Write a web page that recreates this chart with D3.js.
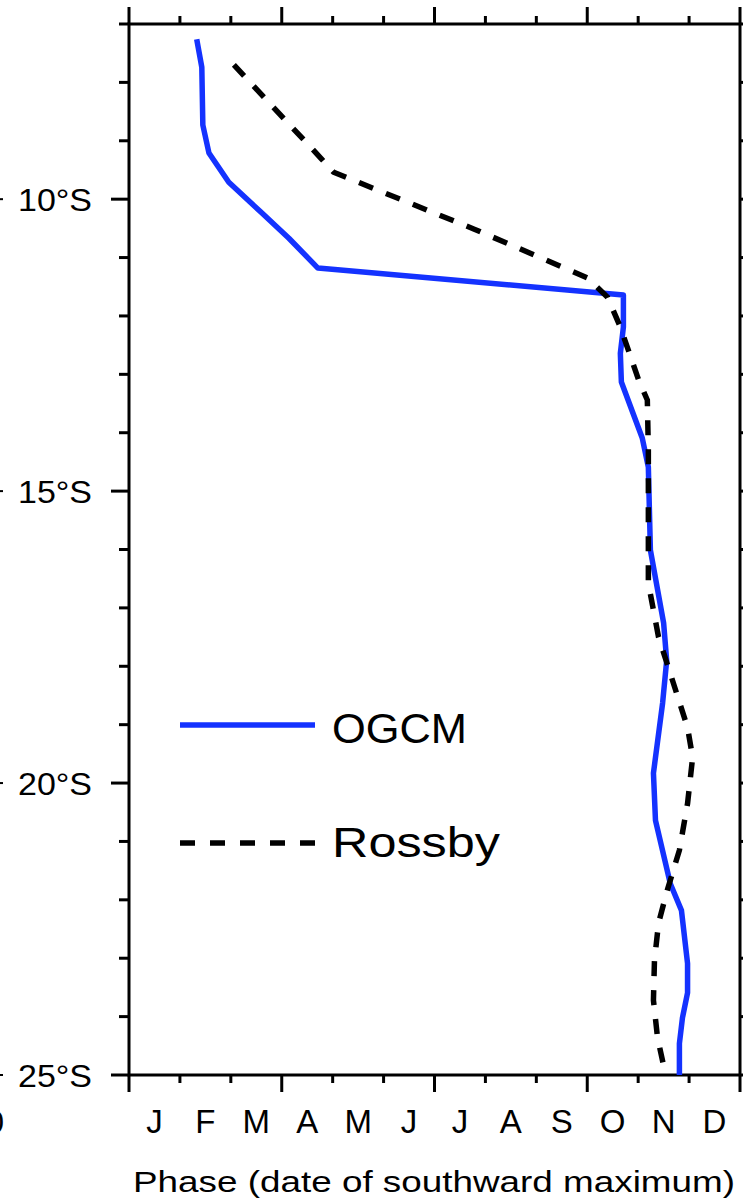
<!DOCTYPE html>
<html>
<head>
<meta charset="utf-8">
<script src="https://cdn.jsdelivr.net/npm/d3@7"></script>
<style>
  body { margin: 0; background: #fff; }
  svg text { font-family: "Liberation Sans", Arial, sans-serif; fill: #000; }
</style>
</head>
<body>
<div class="container"></div>
<script>
// phase (months since 1 Jan) of the southward maximum, by latitude

var monthLabels = ["J", "F", "M", "A", "M", "J", "J", "A", "S", "O", "N", "D"];
var latTicks = [-10, -15, -20, -25];

// OGCM curve
var ogcmLat = [-7.26, -7.74, -8.73, -9.21, -9.71, -10.22, -10.67, -11.18, -11.64, -12.19,
  -12.64, -13.13, -14.09, -14.59, -16.01, -17.26, -17.90, -18.63, -19.83, -20.64,
  -21.72, -22.18, -23.09, -23.59, -24.02, -24.46, -25.0];
var ogcmPhase = [1.33, 1.43, 1.45, 1.57, 1.96, 2.59, 3.14, 3.71, 9.71, 9.71,
  9.65, 9.67, 10.08, 10.20, 10.24, 10.50, 10.56, 10.48, 10.30, 10.34,
  10.63, 10.85, 10.97, 10.97, 10.87, 10.81, 10.81];

// Rossby wave curve
var rossbyLat = [-7.70, -9.30, -9.54, -10.51, -11.35, -11.68, -12.19, -13.10, -13.44, -14.30,
  -16.58, -17.50, -18.12, -19.05, -19.56, -20.35, -21.15, -21.84, -22.40, -23.04,
  -23.72, -24.36, -25.0];
var rossbyPhase = [2.06, 3.77, 4.02, 6.77, 9.01, 9.40, 9.65, 10.01, 10.18, 10.20,
  10.20, 10.40, 10.63, 10.97, 11.07, 10.97, 10.81, 10.57, 10.40, 10.32,
  10.30, 10.38, 10.54];

var opts = {width: 743, height: 1198, left: 129, right: 740, top: 24, bottom: 1075};

var svg = d3.select('.container').append('svg')
  .attr('width', opts.width).attr('height', opts.height);

var x = d3.scaleLinear().domain([0, 12]).range([opts.left, opts.right]);
var y = d3.scaleLinear().domain([-7, -25]).range([opts.top, opts.bottom]);

var months = d3.range(0, 13);
var lats = d3.range(-7, -26, -1);

// ticks, drawn outward like the original plot package
var tickW = 3;
function xTick(g, yPos, dir) {
  g.selectAll(null).data(months).enter().append('line')
    .attr('x1', function(d){ return x(d); })
    .attr('x2', function(d){ return x(d); })
    .attr('y1', yPos)
    .attr('y2', function(d){ return yPos + dir * (d % 3 === 0 ? 17 : 8); })
    .attr('stroke', '#000').attr('stroke-width', tickW);
}
function yTick(g, xPos, dir) {
  g.selectAll(null).data(lats).enter().append('line')
    .attr('y1', function(d){ return y(d); })
    .attr('y2', function(d){ return y(d); })
    .attr('x1', xPos)
    .attr('x2', function(d){ return xPos + dir * (d % 5 === 0 ? 18 : 10); })
    .attr('stroke', '#000').attr('stroke-width', tickW);
}
var ticks = svg.append('g');
xTick(ticks, y(-7), -1);
xTick(ticks, y(-25), 1);
yTick(ticks, x(0), -1);
yTick(ticks, x(12), 1);

// frame
svg.append('rect')
  .attr('x', x(0)).attr('y', y(-7))
  .attr('width', x(12) - x(0)).attr('height', y(-25) - y(-7))
  .attr('fill', 'none').attr('stroke', '#000').attr('stroke-width', tickW);

// y labels
var ylab = svg.append('g');
ylab.selectAll(null).data(latTicks).enter().append('text')
  .attr('x', 18).attr('y', function(d){ return y(d) + 12; })
  .attr('textLength', 74).attr('lengthAdjust', 'spacingAndGlyphs')
  .style('font-size', '32px')
  .text(function(d){ return Math.abs(d) + '°S'; });
// stubs of something clipped at the left edge
ylab.selectAll(null).data(latTicks).enter().append('line')
  .attr('x1', 0).attr('x2', 3)
  .attr('y1', function(d){ return y(d); }).attr('y2', function(d){ return y(d); })
  .attr('stroke', '#000').attr('stroke-width', 2);
svg.append('text').attr('x', 4).attr('y', 1133).attr('text-anchor', 'end')
  .style('font-size', '32px').text('0');

// month labels
svg.append('g').selectAll(null).data(monthLabels).enter().append('text')
  .attr('x', function(d, i){ return x(i + 0.5); })
  .attr('y', 1133)
  .attr('text-anchor', 'middle').style('font-size', '33px')
  .text(function(d){ return d; });

svg.append('text').attr('x', 133).attr('y', 1192)
  .attr('textLength', 602).attr('lengthAdjust', 'spacingAndGlyphs')
  .style('font-size', '30px')
  .text('Phase (date of southward maximum)');

// curves
var line = d3.line()
  .x(function(d){ return x(d[1]); })
  .y(function(d){ return y(d[0]); });

var blue = '#1432ff';
svg.append('path')
  .datum(d3.zip(ogcmLat, ogcmPhase))
  .attr('d', line)
  .attr('fill', 'none').attr('stroke', blue).attr('stroke-width', 5.5)
  .attr('stroke-linejoin', 'round');

svg.append('path')
  .datum(d3.zip(rossbyLat, rossbyPhase))
  .attr('d', line)
  .attr('fill', 'none').attr('stroke', '#000').attr('stroke-width', 5.5)
  .attr('stroke-dasharray', '15,14');

// legend
var legend = svg.append('g');
legend.append('line').attr('x1', 180).attr('x2', 315).attr('y1', 725).attr('y2', 725)
  .attr('stroke', blue).attr('stroke-width', 5.5);
legend.append('text').attr('x', 332).attr('y', 743)
  .attr('textLength', 135).attr('lengthAdjust', 'spacingAndGlyphs')
  .style('font-size', '42px').text('OGCM');
legend.append('line').attr('x1', 180).attr('x2', 315).attr('y1', 843).attr('y2', 843)
  .attr('stroke', '#000').attr('stroke-width', 5.5).attr('stroke-dasharray', '15,15');
legend.append('text').attr('x', 332).attr('y', 857)
  .attr('textLength', 168).attr('lengthAdjust', 'spacingAndGlyphs')
  .style('font-size', '42px').text('Rossby');
</script>
</body>
</html>
